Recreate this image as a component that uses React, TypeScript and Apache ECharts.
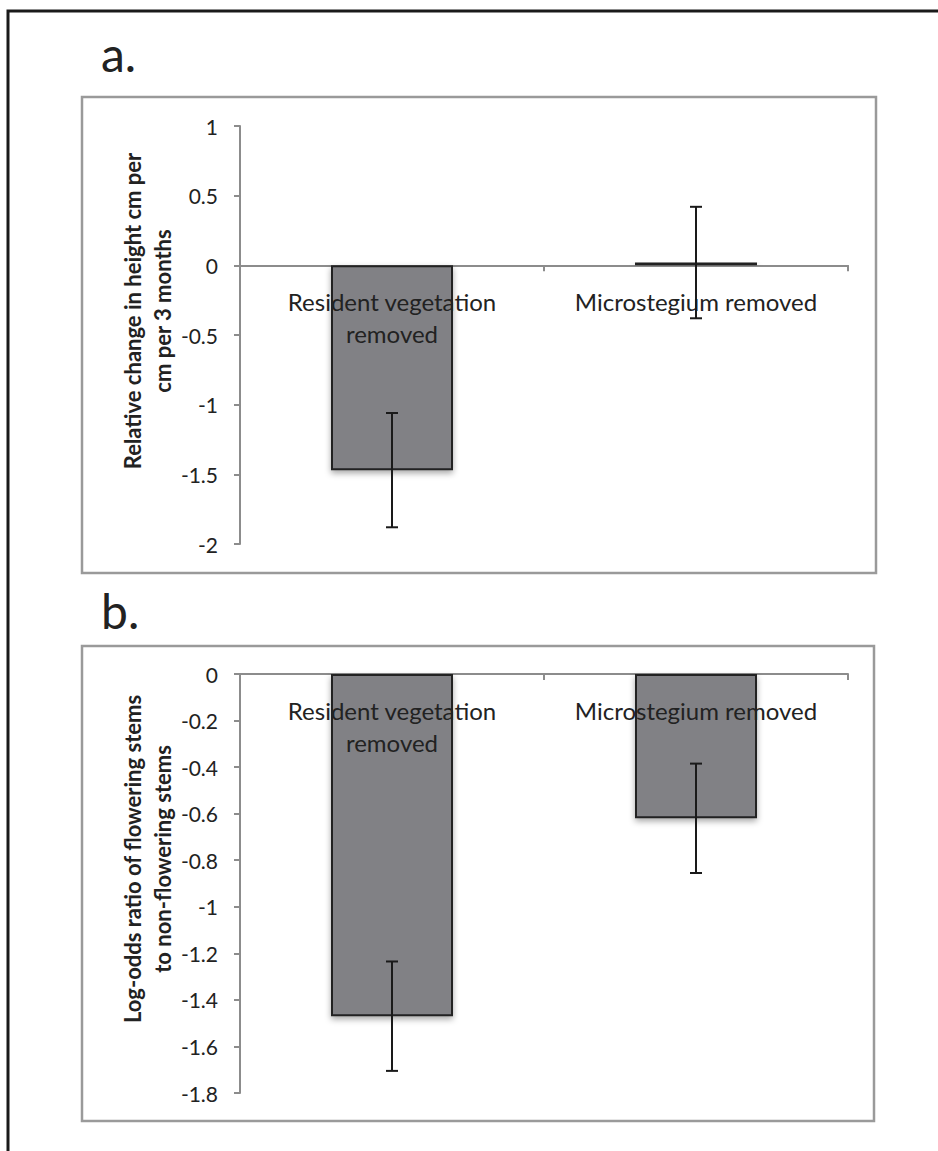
import React, { useEffect, useRef } from "react";
import * as echarts from "echarts";

const categories = ["Resident vegetation\nremoved", "Microstegium removed"];
const heightMeans = [-1.47, 0.02];
const heightErr = [0.41, 0.4];
const floweringMeans = [-1.47, -0.62];
const floweringErr = [0.235, 0.235];
const heightAxis = { min: -2, max: 1, interval: 0.5 };
const floweringAxis = { min: -1.8, max: 0, interval: 0.2 };
const heightTitle = "Relative change in height cm per\ncm per 3 months";
const floweringTitle = "Log-odds ratio of flowering stems\nto non-flowering stems";
const panelLabels = ["a.", "b."];

const FONT = "Lato, 'Noto Sans', sans-serif";
const AXIS_GRAY = "#8c8c8c";
const TEXT = "#222222";

function errData(means: number[], errs: number[]) {
  return means.map((m, i) => [i, m - errs[i], m + errs[i]]);
}

function errorRender(params: any, api: any) {
  const x = api.value(0);
  const lo = api.coord([x, api.value(1)]);
  const hi = api.coord([x, api.value(2)]);
  const hw = 6;
  const style = { stroke: "#1a1a1a", lineWidth: 2 };
  return {
    type: "group",
    children: [
      { type: "line", shape: { x1: hi[0], y1: hi[1], x2: lo[0], y2: lo[1] }, style },
      { type: "line", shape: { x1: hi[0] - hw, y1: hi[1], x2: hi[0] + hw, y2: hi[1] }, style },
      { type: "line", shape: { x1: lo[0] - hw, y1: lo[1], x2: lo[0] + hw, y2: lo[1] }, style },
    ],
  };
}

function labelRender(params: any, api: any) {
  const i = api.value(0);
  const p = api.coord([i, 0]);
  return {
    type: "text",
    x: p[0],
    y: p[1] + 20,
    style: {
      text: categories[i],
      font: `24px ${FONT}`,
      lineHeight: 32,
      fill: TEXT,
      textAlign: "center",
      textVerticalAlign: "top",
    },
  };
}

export default function App() {
  const ref = useRef<HTMLDivElement>(null);
  useEffect(() => {
    if (!ref.current) return;
    const chart = echarts.init(ref.current, null, { renderer: "svg" });
    const xAxisBase = (gridIndex: number) => ({
      type: "category",
      gridIndex,
      data: categories,
      axisLine: { show: true, onZero: true, lineStyle: { color: AXIS_GRAY, width: 2 } },
      axisTick: { show: true, length: 6, lineStyle: { color: AXIS_GRAY, width: 2 } },
      axisLabel: { show: false },
      splitLine: { show: false },
    });
    const yAxisBase = (gridIndex: number, ax: any) => ({
      type: "value",
      gridIndex,
      min: ax.min,
      max: ax.max,
      interval: ax.interval,
      axisLine: { show: true, lineStyle: { color: AXIS_GRAY, width: 2 } },
      axisTick: { show: true, length: 6, lineStyle: { color: AXIS_GRAY, width: 2 } },
      axisLabel: { margin: 22, color: TEXT, fontFamily: FONT, fontSize: 21 },
      splitLine: { show: false },
    });
    const barStyle = {
      color: "#818185",
      borderColor: "#222222",
      borderWidth: 2,
      shadowBlur: 6,
      shadowColor: "rgba(0,0,0,0.35)",
      shadowOffsetY: 3,
    };
    const labelData = categories.map((_, i) => [i, 0]);
    chart.setOption({
      animation: false,
      backgroundColor: "#ffffff",
      grid: [
        { left: 240, top: 126, width: 608, height: 418, containLabel: false },
        { left: 240, top: 674, width: 608, height: 419, containLabel: false },
      ],
      xAxis: [xAxisBase(0), xAxisBase(1)],
      yAxis: [yAxisBase(0, heightAxis), yAxisBase(1, floweringAxis)],
      series: [
        {
          type: "bar",
          xAxisIndex: 0,
          yAxisIndex: 0,
          data: heightMeans,
          barWidth: 122,
          itemStyle: barStyle,
          z: 2,
        },
        {
          type: "custom",
          xAxisIndex: 0,
          yAxisIndex: 0,
          data: labelData,
          renderItem: labelRender,
          z: 10,
        },
        {
          type: "custom",
          xAxisIndex: 0,
          yAxisIndex: 0,
          data: errData(heightMeans, heightErr),
          renderItem: errorRender,
          z: 12,
        },
        {
          type: "bar",
          xAxisIndex: 1,
          yAxisIndex: 1,
          data: floweringMeans,
          barWidth: 122,
          itemStyle: barStyle,
          z: 2,
        },
        {
          type: "custom",
          xAxisIndex: 1,
          yAxisIndex: 1,
          data: labelData,
          renderItem: labelRender,
          z: 10,
        },
        {
          type: "custom",
          xAxisIndex: 1,
          yAxisIndex: 1,
          data: errData(floweringMeans, floweringErr),
          renderItem: errorRender,
          z: 12,
        },
      ],
      graphic: [
        {
          type: "rect",
          shape: { x: 8, y: 11, width: 960, height: 1200 },
          style: { fill: "none", stroke: "#1a1a1a", lineWidth: 3 },
          z: 100,
        },
        {
          type: "rect",
          shape: { x: 82, y: 97, width: 794, height: 476 },
          style: { fill: "none", stroke: "#9a9a9a", lineWidth: 2.5 },
          z: 100,
        },
        {
          type: "rect",
          shape: { x: 82, y: 646, width: 792, height: 475 },
          style: { fill: "none", stroke: "#9a9a9a", lineWidth: 2.5 },
          z: 100,
        },
        {
          type: "text",
          x: 101,
          y: 53,
          style: {
            text: panelLabels[0],
            font: `48px ${FONT}`,
            fill: TEXT,
            textAlign: "left",
            textVerticalAlign: "middle",
          },
          z: 100,
        },
        {
          type: "text",
          x: 101,
          y: 610,
          style: {
            text: panelLabels[1],
            font: `48px ${FONT}`,
            fill: TEXT,
            textAlign: "left",
            textVerticalAlign: "middle",
          },
          z: 100,
        },
        {
          type: "text",
          x: 147,
          y: 311,
          rotation: Math.PI / 2,
          style: {
            text: heightTitle,
            font: `bold 22px ${FONT}`,
            lineHeight: 30,
            fill: TEXT,
            textAlign: "center",
            textVerticalAlign: "middle",
          },
          z: 100,
        },
        {
          type: "text",
          x: 147,
          y: 859,
          rotation: Math.PI / 2,
          style: {
            text: floweringTitle,
            font: `bold 22px ${FONT}`,
            lineHeight: 30,
            fill: TEXT,
            textAlign: "center",
            textVerticalAlign: "middle",
          },
          z: 100,
        },
      ],
    });
    return () => chart.dispose();
  }, []);
  return (
    <div
      ref={ref}
      style={{ position: "fixed", left: 0, top: 0, width: 938, height: 1151, background: "#fff" }}
    />
  );
}
